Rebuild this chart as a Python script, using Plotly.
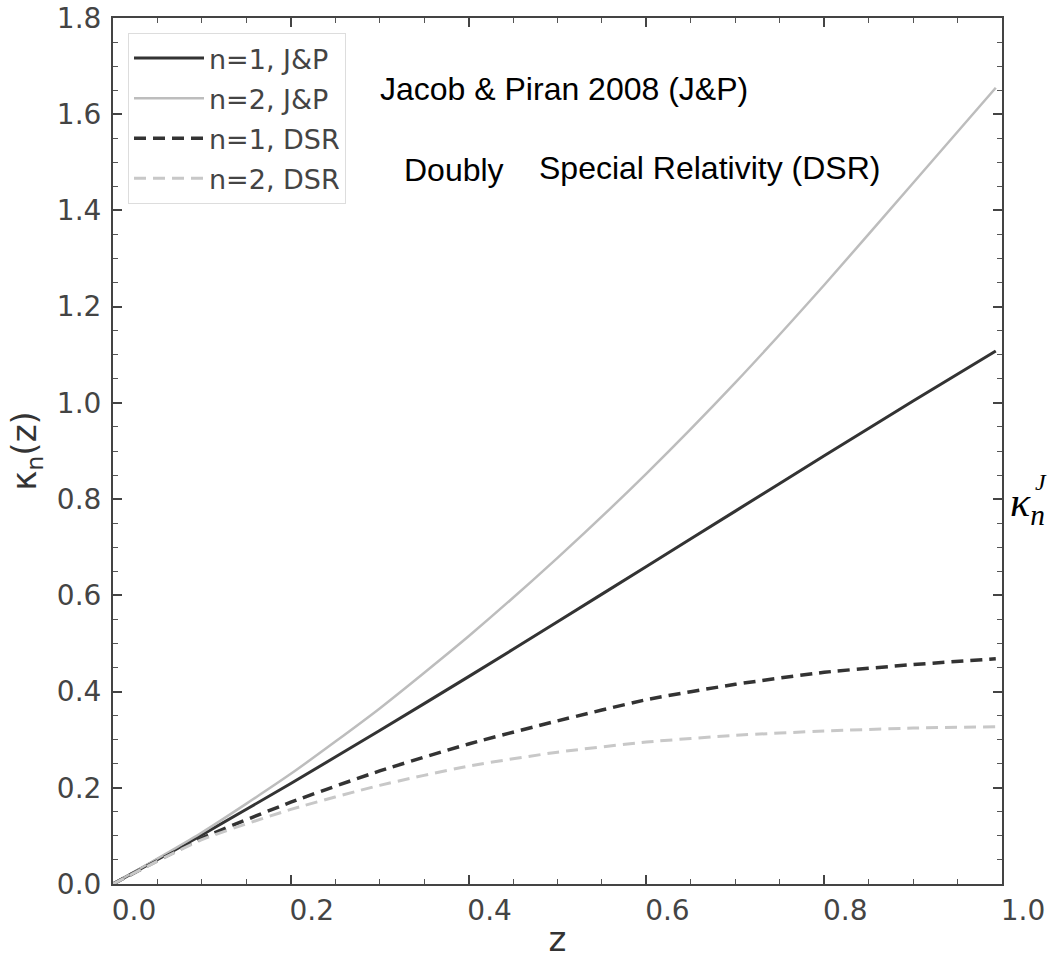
import plotly.graph_objects as go

# redshift samples
z = [0.0, 0.1, 0.2, 0.3, 0.4, 0.5, 0.6, 0.7, 0.8, 0.9, 0.993]
# kappa_n(z)
k1_jp = [0.0, 0.102, 0.209, 0.319, 0.431, 0.545, 0.660, 0.775, 0.890, 1.004, 1.108]
k2_jp = [0.0, 0.107, 0.229, 0.365, 0.515, 0.678, 0.853, 1.042, 1.245, 1.457, 1.655]
k1_dsr = [0.0, 0.095, 0.170, 0.235, 0.291, 0.339, 0.383, 0.415, 0.440, 0.456, 0.468]
k2_dsr = [0.0, 0.092, 0.155, 0.205, 0.245, 0.274, 0.295, 0.309, 0.318, 0.324, 0.327]

names = ["n=1, J&P", "n=2, J&P", "n=1, DSR", "n=2, DSR"]
xticks = [0.0, 0.2, 0.4, 0.6, 0.8, 1.0]
yticks = [0.0, 0.2, 0.4, 0.6, 0.8, 1.0, 1.2, 1.4, 1.6, 1.8]

series = [k1_jp, k2_jp, k1_dsr, k2_dsr]
styles = [
    dict(color="#333333", width=3, dash="solid"),
    dict(color="#bdbdbd", width=2.5, dash="solid"),
    dict(color="#333333", width=3.5, dash="12px,7px"),
    dict(color="#c8c8c8", width=3, dash="12px,7px"),
]

fig = go.Figure()
for i, (nm, ys, st) in enumerate(zip(names, series, styles)):
    fig.add_trace(go.Scatter(x=z, y=ys, mode="lines", name=nm, legendgroup=str(i),
                             line=dict(shape="spline", smoothing=0.6, **st)))

axis_common = dict(
    showline=True, linecolor="#444444", linewidth=2, mirror="ticks",
    ticks="inside", ticklen=9, tickwidth=1.5, tickcolor="#444444",
    showgrid=False, zeroline=False, automargin=False,
    tickfont=dict(family="DejaVu Sans", size=28, color="#444444"),
    minor=dict(dtick=0.05, ticks="inside", ticklen=5, tickwidth=1, tickcolor="#555555", showgrid=False),
)

fig.update_xaxes(range=[0, 1.0], tickvals=xticks, ticktext=[f"{v:.1f}" for v in xticks],
                 ticklabelshift=21, ticklabelstandoff=0,
                 title=dict(text="z", font=dict(family="DejaVu Sans", size=34, color="#333333"), standoff=4),
                 **axis_common)
fig.update_yaxes(range=[0, 1.8], tickvals=yticks, ticktext=[f"{v:.1f}" for v in yticks],
                 ticklabelstandoff=4,
                 title=dict(text="κ<sub>n</sub>(z)", font=dict(family="DejaVu Sans", size=34, color="#333333"), standoff=10),
                 **axis_common)

W, H = 1049, 959
L, R, T, B = 113, 47, 18, 75
pw, ph = W - L - R, H - T - B


def px(x):
    return (x - L) / pw


def py(y):
    return (H - B - y) / ph


fig.update_layout(
    width=W, height=H,
    margin=dict(l=L, r=R, t=T, b=B),
    paper_bgcolor="white", plot_bgcolor="white",
    showlegend=True,
    legend=dict(x=px(128), y=py(33), xanchor="left", yanchor="top",
                bgcolor="white", bordercolor="#dddddd", borderwidth=1,
                itemwidth=70,
                font=dict(family="DejaVu Sans", size=27, color="#444444"),
                tracegroupgap=2, traceorder="grouped"),
)

ann_font = dict(family="Liberation Sans", size=32, color="black")
fig.add_annotation(text="Jacob & Piran 2008 (J&P)", x=px(378), y=py(89), xref="paper", yref="paper",
                   showarrow=False, font=ann_font, xanchor="left", yanchor="middle")
fig.add_annotation(text="Doubly", x=px(402), y=py(170), xref="paper", yref="paper",
                   showarrow=False, font=ann_font, xanchor="left", yanchor="middle")
fig.add_annotation(text="Special Relativity (DSR)", x=px(537), y=py(168), xref="paper", yref="paper",
                   showarrow=False, font=ann_font, xanchor="left", yanchor="middle")

# clipped kappa label at right edge
fig.add_annotation(text="<i>κ</i><sub><i>n</i></sub>", x=px(1008), y=py(505),
                   xref="paper", yref="paper", showarrow=False, xanchor="left", yanchor="middle",
                   font=dict(family="Liberation Serif", size=42, color="black"))
fig.add_annotation(text="<i>J</i>", x=px(1033), y=py(482),
                   xref="paper", yref="paper", showarrow=False, xanchor="left", yanchor="middle",
                   font=dict(family="Liberation Serif", size=24, color="black"))

fig.write_html("out.html")
